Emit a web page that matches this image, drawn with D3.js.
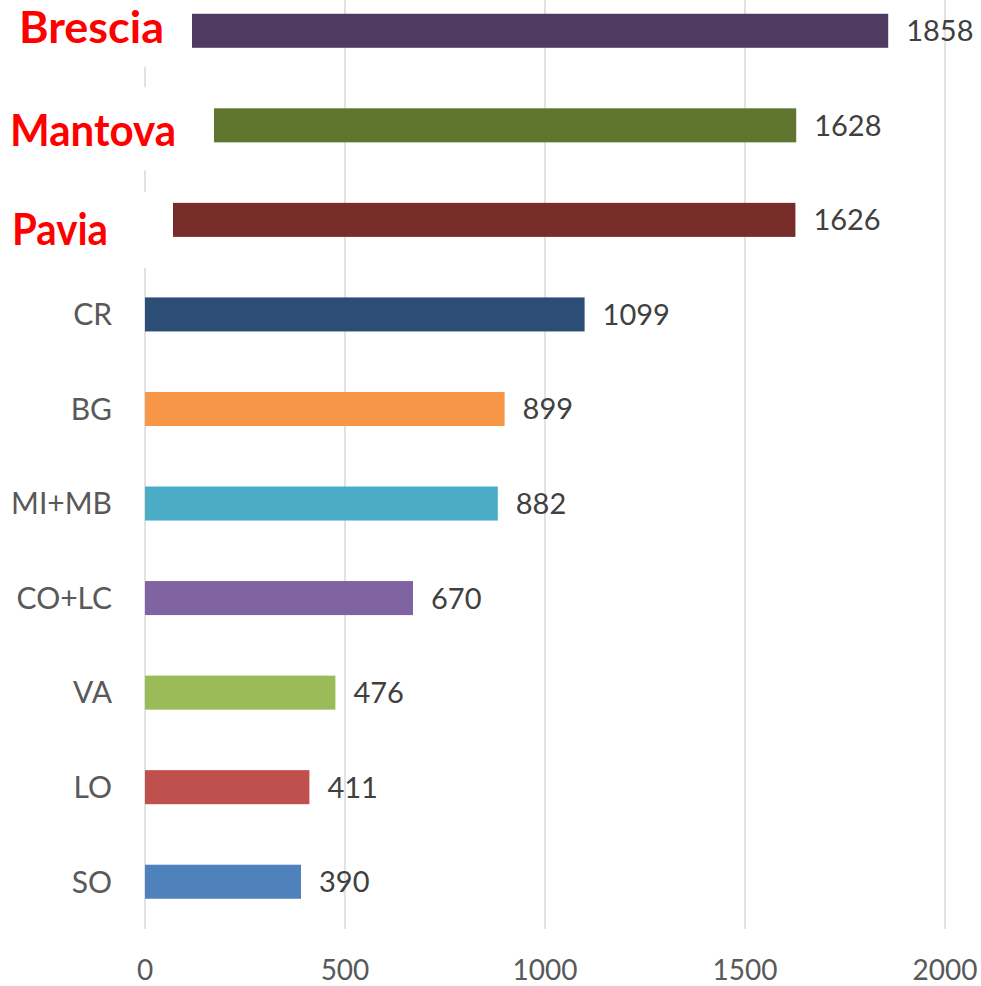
<!DOCTYPE html>
<html>
<head>
<meta charset="utf-8">
<script src="https://cdn.jsdelivr.net/npm/d3@7/dist/d3.min.js"></script>
<style>
  html, body { margin: 0; padding: 0; background: #fff; }
  svg { display: block; }
</style>
</head>
<body>
<svg id="chart" width="981" height="986"></svg>
<script>
// Provinces, top to bottom
const categories = ["Brescia", "Mantova", "Pavia", "CR", "BG", "MI+MB", "CO+LC", "VA", "LO", "SO"];
const values = [1858, 1628, 1626, 1099, 899, 882, 670, 476, 411, 390];
const barColors = ["#4e3b62", "#60762f", "#772c2a", "#2c4d75", "#f79646", "#4bacc6", "#8064a2", "#9bbb59", "#c0504d", "#4f81bd"];
const highlighted = ["Brescia", "Mantova", "Pavia"];
const tickValues = [0, 500, 1000, 1500, 2000];

// Highlight boxes: white background panels behind the red labels
// (offsets relative to the band centre, right edge and text width in pixels)
const boxLayout = {
  "Brescia": { right: 192, top: -60, bottom: 36, textX: 19, baseline: 12, width: 145 },
  "Mantova": { right: 214, top: -38, bottom: 45, textX: 10, baseline: 21, width: 166 },
  "Pavia":   { right: 173, top: -28, bottom: 48, textX: 12, baseline: 25, width: 96 }
};

const svg = d3.select("#chart");
const font = "Lato, 'Open Sans', sans-serif";
const left = 145, right = 945, bottom = 929;
const step = 94.55;

const x = d3.scaleLinear().domain([0, 2000]).range([left, right]);
const y = d3.scaleBand()
  .domain(categories)
  .range([bottom - step * categories.length, bottom])
  .paddingInner(0.64)
  .paddingOuter(0.32);

// Vertical gridlines (including the value axis at 0)
svg.append("g")
  .selectAll("line")
  .data(tickValues)
  .join("line")
  .attr("x1", d => x(d)).attr("x2", d => x(d))
  .attr("y1", y.range()[0]).attr("y2", bottom)
  .attr("stroke", "#d9d9d9")
  .attr("stroke-width", 1.5);

// Bars
svg.append("g")
  .selectAll("rect")
  .data(categories)
  .join("rect")
  .attr("x", x(0))
  .attr("y", d => y(d))
  .attr("width", (d, i) => x(values[i]) - x(0))
  .attr("height", y.bandwidth())
  .attr("fill", (d, i) => barColors[i]);

// Value labels
svg.append("g")
  .selectAll("text")
  .data(categories)
  .join("text")
  .attr("x", (d, i) => x(values[i]) + 18)
  .attr("y", d => y(d) + y.bandwidth() / 2)
  .attr("dy", "0.36em")
  .attr("font-family", font)
  .attr("font-size", 29)
  .attr("fill", "#404040")
  .text((d, i) => values[i]);

// Category labels (regular)
svg.append("g")
  .selectAll("text")
  .data(categories.filter(c => !highlighted.includes(c)))
  .join("text")
  .attr("x", 112)
  .attr("y", d => y(d) + y.bandwidth() / 2)
  .attr("dy", "0.36em")
  .attr("text-anchor", "end")
  .attr("font-family", font)
  .attr("font-size", 30)
  .attr("fill", "#595959")
  .text(d => d);

// Highlighted provinces: white panel with bold red name
const hl = svg.append("g")
  .selectAll("g")
  .data(highlighted)
  .join("g");

hl.append("rect")
  .attr("x", 0)
  .attr("y", d => y(d) + y.bandwidth() / 2 + boxLayout[d].top)
  .attr("width", d => boxLayout[d].right)
  .attr("height", d => boxLayout[d].bottom - boxLayout[d].top)
  .attr("fill", "#fff");

hl.append("text")
  .attr("x", d => boxLayout[d].textX)
  .attr("y", d => y(d) + y.bandwidth() / 2 + boxLayout[d].baseline)
  .attr("font-family", font)
  .attr("font-weight", "bold")
  .attr("font-size", 43)
  .attr("textLength", d => boxLayout[d].width)
  .attr("lengthAdjust", "spacingAndGlyphs")
  .attr("fill", "#ff0000")
  .text(d => d);

// Value axis tick labels
svg.append("g")
  .selectAll("text")
  .data(tickValues)
  .join("text")
  .attr("x", d => x(d))
  .attr("y", 980)
  .attr("text-anchor", "middle")
  .attr("font-family", font)
  .attr("font-size", 28)
  .attr("fill", "#595959")
  .text(d => d);
</script>
</body>
</html>
